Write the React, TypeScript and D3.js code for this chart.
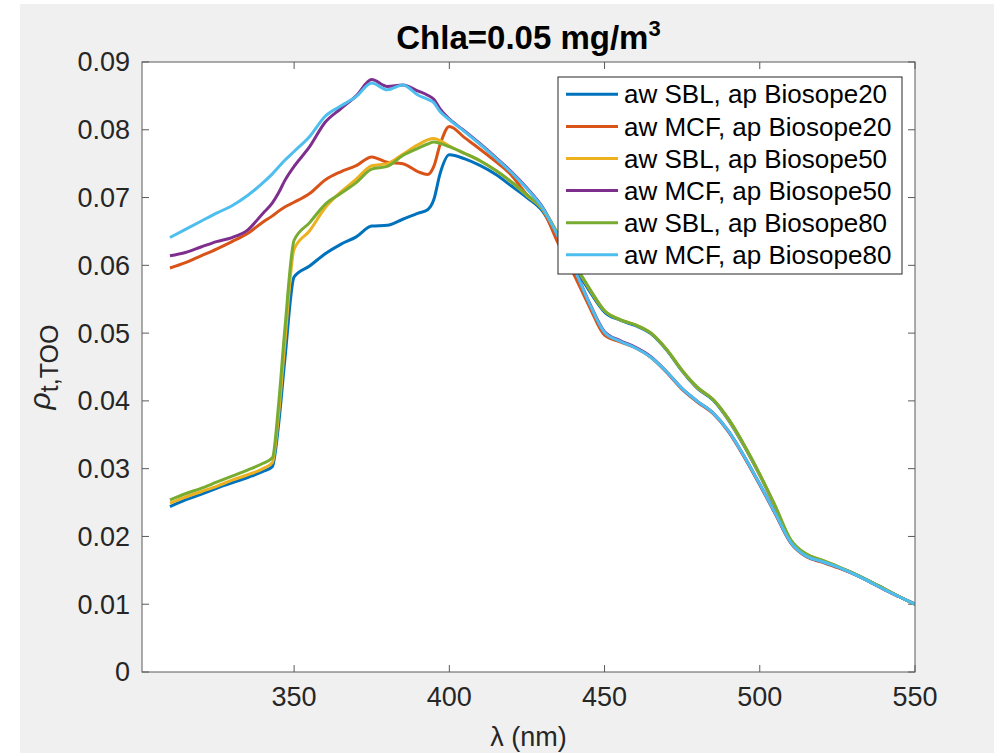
import React from 'react';
import * as d3 from 'd3';

const wavelengths = [310,315,320,325,330,335,340,343,345,347,350,355,360,365,370,375,380,385,390,393,395,397,400,405,410,415,420,425,430,435,440,445,450,455,460,465,470,475,480,485,490,495,500,505,510,515,520,525,530,535,540,545,550];

const sblB20 = [.0244,.0254,.0262,.0271,.0279,.0287,.0296,.0303,.0365,.0460,.0583,.0599,.0617,.0631,.0642,.0658,.0659,.0668,.0677,.0682,.0697,.0735,.0763,.0757,.0747,.0734,.0717,.0700,.0680,.0640,.0600,.0563,.0531,.0519,.0511,.0499,.0475,.0444,.0418,.0401,.0371,.0333,.0290,.0243,.0193,.0173,.0164,.0155,.0146,.0135,.0123,.0111,.0100];
const mcfB20 = [.0596,.0604,.0614,.0624,.0635,.0647,.0664,.0673,.0680,.0686,.0693,.0706,.0726,.0738,.0747,.0760,.0752,.0750,.0738,.0734,.0746,.0778,.0805,.0788,.0771,.0753,.0733,.0704,.0683,.0633,.0588,.0540,.0497,.0487,.0478,.0464,.0442,.0417,.0398,.0381,.0354,.0317,.0276,.0233,.0190,.0170,.0162,.0154,.0145,.0134,.0122,.0111,.0100];
const sblB50 = [.0249,.0258,.0266,.0274,.0283,.0291,.0300,.0309,.0380,.0485,.0624,.0651,.0685,.0708,.0727,.0747,.0750,.0764,.0778,.0785,.0787,.0784,.0776,.0765,.0754,.0740,.0723,.0703,.0683,.0645,.0604,.0566,.0533,.0520,.0512,.0500,.0476,.0445,.0419,.0402,.0372,.0334,.0291,.0244,.0194,.0174,.0165,.0156,.0146,.0135,.0123,.0111,.0100];
const mcfB50 = [.0614,.0619,.0627,.0635,.0641,.0652,.0677,.0692,.0707,.0725,.0746,.0775,.0811,.0831,.0850,.0874,.0864,.0866,.0857,.0851,.0845,.0831,.0816,.0798,.0779,.0759,.0738,.0714,.0686,.0644,.0598,.0546,.0502,.0489,.0479,.0465,.0443,.0418,.0399,.0382,.0355,.0318,.0277,.0234,.0191,.0171,.0163,.0155,.0145,.0134,.0122,.0111,.0100];
const sblB80 = [.0254,.0263,.0271,.0280,.0289,.0298,.0308,.0316,.0395,.0505,.0637,.0663,.0690,.0706,.0722,.0742,.0746,.0762,.0773,.0779,.0782,.0780,.0775,.0765,.0754,.0740,.0723,.0704,.0684,.0646,.0605,.0567,.0533,.0520,.0512,.0500,.0476,.0445,.0420,.0402,.0373,.0335,.0292,.0245,.0195,.0174,.0165,.0156,.0146,.0135,.0123,.0111,.0100];
const mcfB80 = [.0641,.0653,.0665,.0677,.0688,.0703,.0722,.0735,.0745,.0755,.0768,.0790,.0820,.0835,.0849,.0869,.0859,.0866,.0851,.0845,.0840,.0827,.0815,.0797,.0778,.0758,.0737,.0713,.0685,.0643,.0597,.0545,.0501,.0488,.0478,.0464,.0443,.0418,.0399,.0382,.0355,.0318,.0277,.0234,.0191,.0171,.0163,.0155,.0145,.0134,.0122,.0111,.0100];

const seriesNames = [
  'aw SBL, ap Biosope20',
  'aw MCF, ap Biosope20',
  'aw SBL, ap Biosope50',
  'aw MCF, ap Biosope50',
  'aw SBL, ap Biosope80',
  'aw MCF, ap Biosope80',
];
const seriesValues = [sblB20, mcfB20, sblB50, mcfB50, sblB80, mcfB80];
const seriesColors = ['#0072BD', '#D95319', '#EDB120', '#7E2F8E', '#77AC30', '#4DBEEE'];

const xTicks = [350, 400, 450, 500, 550];
const yTicks = [0, 0.01, 0.02, 0.03, 0.04, 0.05, 0.06, 0.07, 0.08, 0.09];

const FONT = '"Liberation Sans", Arial, Helvetica, sans-serif';
const TXT = '#262626';
const AX = '#5a5a5a';

export default function App() {
  const W = 994, H = 755;
  const L = 142, R = 915, T = 62, B = 672;
  const x = d3.scaleLinear().domain([301, 550]).range([L, R]);
  const y = d3.scaleLinear().domain([0, 0.09]).range([B, T]);
  const line = d3.line<number>()
    .x((_, i) => x(wavelengths[i]))
    .y((d) => y(d))
    .curve(d3.curveMonotoneX);
  const tick = 7;
  const legX = 558, legY = 77, legW = 344, legH = 197;
  const rowH = 32.1, row0 = 94.3;

  return (
    <svg width={W} height={H} style={{ position: 'absolute', left: 0, top: 0 }} fontFamily={FONT}>
      <rect x={0} y={0} width={W} height={H} fill="#ffffff" />
      <rect x={20} y={4} width={W - 20} height={749} fill="#f0f0f0" />
      <rect x={L} y={T} width={R - L} height={B - T} fill="#ffffff" />
      <defs>
        <clipPath id="plotclip">
          <rect x={L} y={T} width={R - L} height={B - T} />
        </clipPath>
      </defs>
      {xTicks.map((t) => (
        <g key={'xt' + t}>
          <line x1={x(t)} x2={x(t)} y1={B} y2={B - tick} stroke={AX} strokeWidth={1} />
          <line x1={x(t)} x2={x(t)} y1={T} y2={T + tick} stroke={AX} strokeWidth={1} />
          <text x={x(t)} y={706} textAnchor="middle" fontSize={27} fill={TXT}>{t}</text>
        </g>
      ))}
      {yTicks.map((t) => (
        <g key={'yt' + t}>
          <line x1={L} x2={L + tick} y1={y(t)} y2={y(t)} stroke={AX} strokeWidth={1} />
          <line x1={R} x2={R - tick} y1={y(t)} y2={y(t)} stroke={AX} strokeWidth={1} />
          <text x={130} y={y(t)} dy="0.35em" textAnchor="end" fontSize={27} fill={TXT}>{t === 0 ? '0' : t.toFixed(2)}</text>
        </g>
      ))}
      <g clipPath="url(#plotclip)">
        {seriesValues.map((vals, i) => (
          <path key={i} d={line(vals) || ''} fill="none" stroke={seriesColors[i]} strokeWidth={3} strokeLinejoin="round" />
        ))}
      </g>
      <rect x={L} y={T} width={R - L} height={B - T} fill="none" stroke={AX} strokeWidth={1} />
      <text x={(L + R) / 2} y={49} textAnchor="middle" fontSize={33} fontWeight="bold" fill="#000">
        Chla=0.05 mg/m<tspan dy={-13} fontSize={22}>3</tspan>
      </text>
      <text x={(L + R) / 2} y={746} textAnchor="middle" fontSize={27} fill={TXT}>λ (nm)</text>
      <text transform={`translate(50, ${(T + B) / 2}) rotate(-90)`} textAnchor="middle" fill={TXT}>
        <tspan fontStyle="italic" fontSize={30}>ρ</tspan>
        <tspan dy={8} fontSize={25}>t,TOO</tspan>
      </text>
      <rect x={legX} y={legY} width={legW} height={legH} fill="#ffffff" stroke="#262626" strokeWidth={1} />
      {seriesNames.map((name, i) => (
        <g key={'lg' + i}>
          <line x1={566} x2={618} y1={row0 + i * rowH} y2={row0 + i * rowH} stroke={seriesColors[i]} strokeWidth={3} />
          <text x={624} y={row0 + i * rowH} dy="0.35em" fontSize={26} fill="#000">{name}</text>
        </g>
      ))}
    </svg>
  );
}
